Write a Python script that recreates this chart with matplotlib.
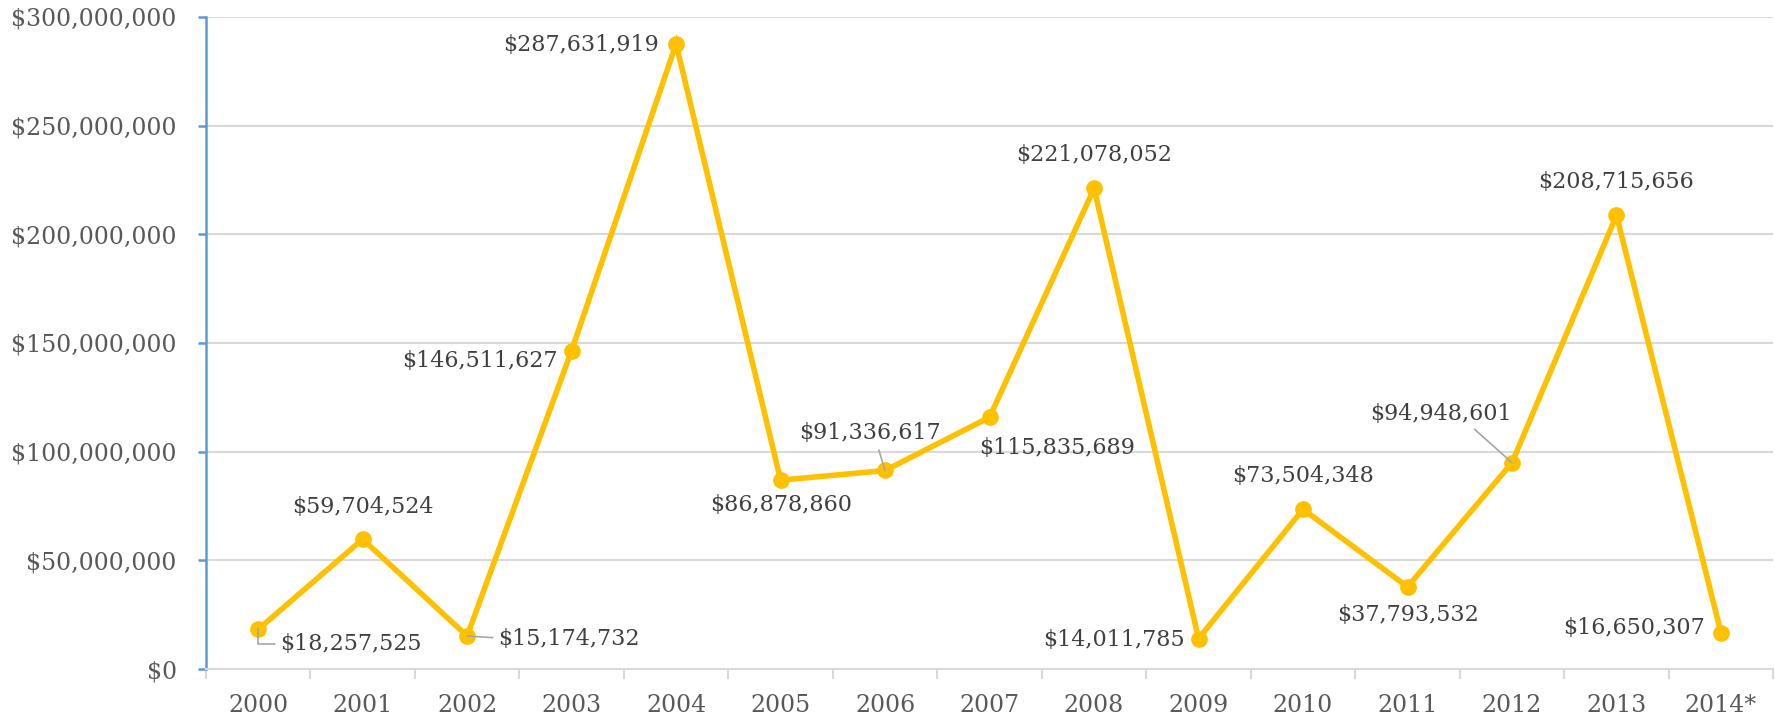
import numpy as np
import matplotlib.pyplot as plt
from matplotlib.ticker import FuncFormatter, FixedLocator

years = ['2000', '2001', '2002', '2003', '2004', '2005', '2006', '2007',
         '2008', '2009', '2010', '2011', '2012', '2013', '2014*']
amounts = [18257525, 59704524, 15174732, 146511627, 287631919, 86878860,
           91336617, 115835689, 221078052, 14011785, 73504348, 37793532,
           94948601, 208715656, 16650307]
# label offsets in pixels (dx, dy) relative to the point
label_offsets = [(93, -15), (0, 32), (102, -3), (-92, -10), (-95, -1),
                 (1, -25), (-15, 37), (68, -31), (0, 33), (-85, -1),
                 (0, 33), (0, -28), (-71, 49), (0, 33), (-87, 5)]
leader = {0: 'angle,angleA=0,angleB=90,rad=0', 2: 'arc3', 6: 'arc3', 12: 'arc3'}

plt.rcParams['font.family'] = ['DejaVu Serif']
GOLD = '#FFC000'
GRID = '#d9d9d9'
TXT = '#595959'
LBL = '#404040'

fig = plt.figure(figsize=(17.75, 7.15), dpi=100)
ax = fig.add_axes([0.116, 0.0643, 0.883, 0.912])

x = np.arange(len(years))
ax.plot(x, amounts, color=GOLD, lw=4, marker='o', ms=11, zorder=3,
        solid_joinstyle='miter')

for i, (xi, v) in enumerate(zip(x, amounts)):
    dx, dy = label_offsets[i]
    txt = '${:,}'.format(v)
    kw = dict(xytext=(dx, dy), textcoords='offset pixels', ha='center',
              va='center', fontsize=16, color=LBL, zorder=4)
    if i in leader:
        ap = dict(arrowstyle='-', color='#a6a6a6', lw=1.2, shrinkA=2, shrinkB=0,
                  connectionstyle=leader[i])
        if i == 0:
            ap['relpos'] = (0, 0.5)
        elif i == 2:
            ap['relpos'] = (0, 0.55)
        elif i == 6:
            ap['relpos'] = (0.55, 0)
        else:
            ap['relpos'] = (0.7, 0)
        ax.annotate(txt, (xi, v), arrowprops=ap, **kw)
    else:
        ax.annotate(txt, (xi, v), **kw)

ax.set_xlim(-0.5, len(years) - 0.5)
ax.set_ylim(0, 300000000)
ax.set_yticks(np.arange(0, 300000001, 50000000))
ax.yaxis.set_major_formatter(FuncFormatter(lambda v, p: '${:,.0f}'.format(v)))
ax.set_xticks(x)
ax.set_xticklabels(years)
ax.xaxis.set_minor_locator(FixedLocator(np.arange(-0.5, len(years), 1)))

ax.grid(axis='y', color=GRID, lw=1.5, zorder=0)
ax.set_axisbelow(True)
for s in ['top', 'right']:
    ax.spines[s].set_visible(False)
ax.spines['left'].set_color('#5B9BD5')
ax.spines['left'].set_linewidth(1.8)
ax.spines['bottom'].set_color(GRID)
ax.spines['bottom'].set_linewidth(1.5)

ax.tick_params(axis='y', colors='#5B9BD5', length=6, width=1.8, pad=15,
               labelcolor=TXT, labelsize=17)
ax.tick_params(axis='x', which='major', length=0, pad=18, labelcolor=TXT,
               labelsize=17)
ax.tick_params(axis='x', which='minor', length=7, width=1.5, color=GRID)

fig.savefig('out.png', dpi=100)
